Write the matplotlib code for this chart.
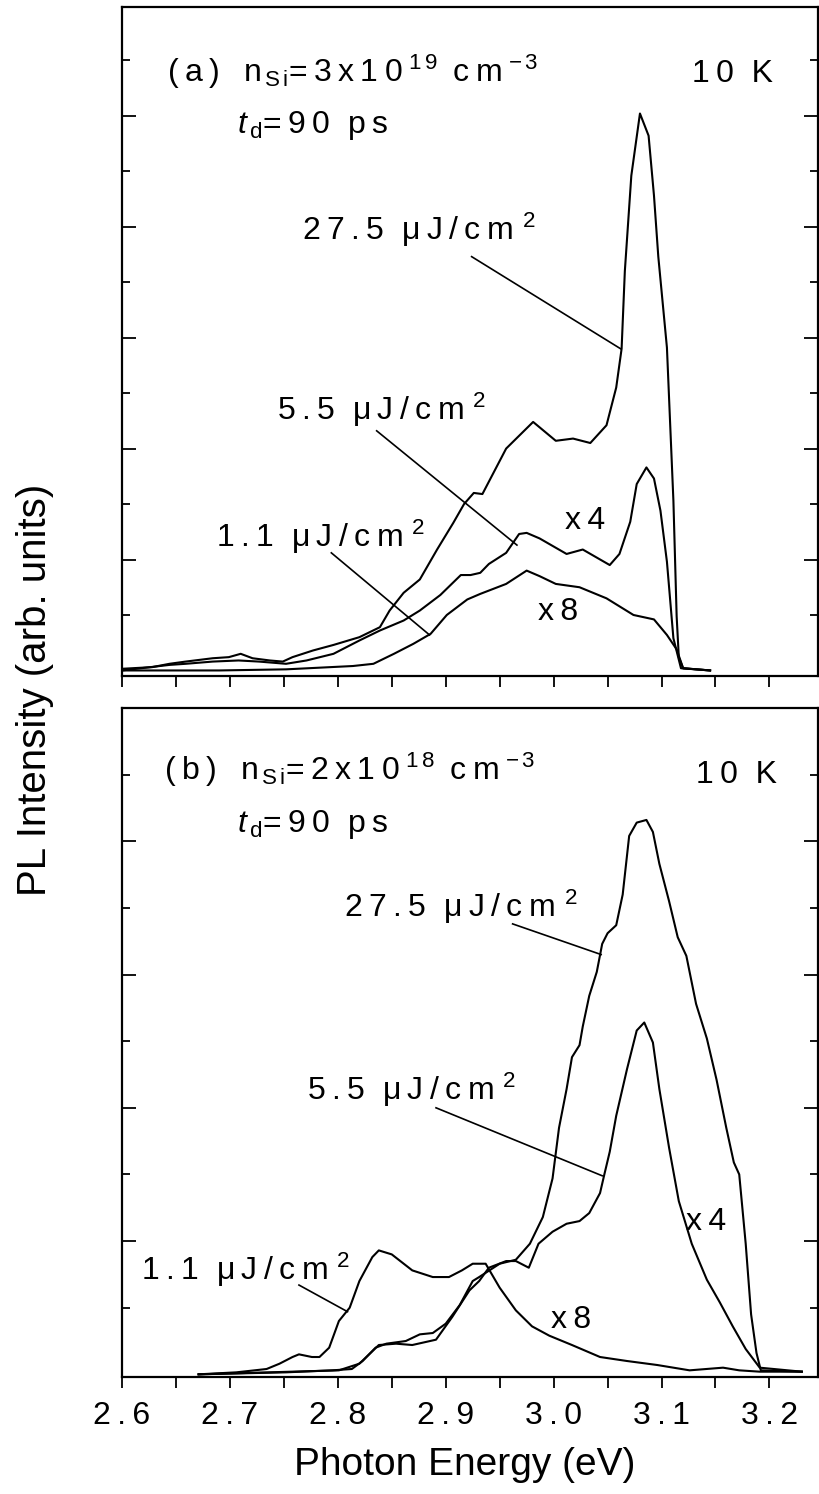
import matplotlib
matplotlib.use('Agg')
import matplotlib.pyplot as plt
from matplotlib.ticker import MultipleLocator, FixedLocator, FuncFormatter

plt.rcParams['font.family'] = ['Liberation Sans', 'DejaVu Sans']
plt.rcParams['mathtext.fontset'] = 'custom'
plt.rcParams['mathtext.rm'] = 'Liberation Sans'
plt.rcParams['mathtext.it'] = 'Liberation Sans:italic'

# ---- panel (a): n_Si = 3x10^19 cm^-3 ----
a_e_hi = [2.600, 2.628, 2.644, 2.659, 2.684, 2.699, 2.710, 2.721, 2.737, 2.749, 2.758, 2.777,
          2.796, 2.820, 2.839, 2.848, 2.861, 2.876, 2.892, 2.907, 2.917, 2.926, 2.934, 2.956,
          2.981, 3.002, 3.018, 3.034, 3.049, 3.058, 3.063, 3.066, 3.072, 3.080, 3.088, 3.093,
          3.097, 3.105, 3.111, 3.114, 3.116, 3.120, 3.145]
a_i_hi = [0.015, 0.03, 0.06, 0.08, 0.11, 0.12, 0.15, 0.11, 0.09, 0.08, 0.12, 0.18,
          0.23, 0.30, 0.39, 0.54, 0.70, 0.82, 1.09, 1.33, 1.50, 1.60, 1.59, 2.00,
          2.24, 2.07, 2.09, 2.05, 2.21, 2.55, 2.90, 3.60, 4.46, 5.02, 4.82, 4.28,
          3.73, 2.91, 1.53, 0.49, 0.12, 0.02, 0.0]

a_e_mid = [2.600, 2.644, 2.659, 2.684, 2.708, 2.727, 2.752, 2.771, 2.796, 2.820, 2.839, 2.861,
           2.876, 2.895, 2.914, 2.923, 2.932, 2.940, 2.956, 2.968, 2.975, 2.987, 3.012, 3.027,
           3.052, 3.061, 3.071, 3.077, 3.086, 3.093, 3.099, 3.105, 3.111, 3.118, 3.145]
a_i_mid = [0.0, 0.05, 0.06, 0.08, 0.09, 0.08, 0.06, 0.09, 0.15, 0.27, 0.36, 0.45,
           0.54, 0.68, 0.86, 0.86, 0.88, 0.96, 1.06, 1.23, 1.24, 1.19, 1.05, 1.09,
           0.95, 1.05, 1.34, 1.68, 1.83, 1.73, 1.44, 0.98, 0.29, 0.02, 0.0]

a_e_lo = [2.600, 2.690, 2.752, 2.814, 2.833, 2.852, 2.870, 2.886, 2.901, 2.920, 2.932, 2.956,
          2.975, 2.987, 3.002, 3.024, 3.049, 3.074, 3.093, 3.105, 3.114, 3.120, 3.145]
a_i_lo = [0.0, 0.0, 0.01, 0.04, 0.06, 0.15, 0.24, 0.33, 0.50, 0.64, 0.69, 0.78,
          0.90, 0.85, 0.78, 0.75, 0.65, 0.50, 0.46, 0.32, 0.19, 0.02, 0.0]

# ---- panel (b): n_Si = 2x10^18 cm^-3 ----
b_e_hi = [2.671, 2.752, 2.795, 2.813, 2.823, 2.835, 2.845, 2.863, 2.876, 2.888, 2.900, 2.913,
          2.925, 2.931, 2.950, 2.965, 2.978, 2.990, 2.999, 3.005, 3.012, 3.017, 3.024, 3.027,
          3.033, 3.040, 3.045, 3.050, 3.058, 3.064, 3.070, 3.077, 3.086, 3.092, 3.098, 3.107,
          3.115, 3.123, 3.132, 3.142, 3.151, 3.160, 3.167, 3.172, 3.178, 3.183, 3.188, 3.192,
          3.230]
b_i_hi = [0.0, 0.015, 0.03, 0.04, 0.10, 0.20, 0.23, 0.25, 0.30, 0.31, 0.38, 0.52,
          0.70, 0.73, 0.83, 0.86, 0.98, 1.18, 1.47, 1.85, 2.14, 2.38, 2.47, 2.61,
          2.84, 3.02, 3.23, 3.31, 3.37, 3.60, 4.04, 4.14, 4.16, 4.07, 3.83, 3.55,
          3.28, 3.14, 2.78, 2.52, 2.21, 1.85, 1.59, 1.50, 0.98, 0.45, 0.16, 0.03,
          0.02]

b_e_mid = [2.671, 2.801, 2.820, 2.838, 2.854, 2.869, 2.891, 2.906, 2.922, 2.931, 2.940, 2.956,
           2.965, 2.977, 2.986, 2.999, 3.012, 3.024, 3.033, 3.043, 3.047, 3.052, 3.058, 3.068,
           3.077, 3.084, 3.092, 3.098, 3.107, 3.116, 3.128, 3.142, 3.154, 3.166, 3.178, 3.191,
           3.230]
b_i_mid = [0.0, 0.03, 0.08, 0.22, 0.23, 0.22, 0.26, 0.43, 0.63, 0.70, 0.80, 0.85,
           0.85, 0.80, 0.98, 1.07, 1.13, 1.15, 1.21, 1.36, 1.50, 1.67, 1.94, 2.29,
           2.58, 2.64, 2.49, 2.14, 1.70, 1.30, 0.98, 0.71, 0.54, 0.36, 0.19, 0.05,
           0.02]

b_e_lo = [2.671, 2.706, 2.734, 2.746, 2.758, 2.764, 2.776, 2.783, 2.792, 2.801, 2.811, 2.820,
          2.832, 2.838, 2.850, 2.869, 2.888, 2.903, 2.915, 2.925, 2.937, 2.950, 2.965, 2.980,
          2.996, 3.017, 3.043, 3.068, 3.096, 3.126, 3.157, 3.172, 3.191, 3.230]
b_i_lo = [0.0, 0.015, 0.04, 0.08, 0.13, 0.15, 0.13, 0.13, 0.20, 0.40, 0.50, 0.70,
          0.88, 0.93, 0.90, 0.78, 0.73, 0.73, 0.78, 0.83, 0.83, 0.65, 0.48, 0.36,
          0.29, 0.22, 0.13, 0.10, 0.07, 0.03, 0.05, 0.03, 0.02, 0.02]

x_ticks = [2.6, 2.7, 2.8, 2.9, 3.0, 3.1, 3.2]
fluences = ['27.5', '5.5', '1.1']
scales = ['x4', 'x8']

TS = '\u2009'  # thin space, the original lettering is widely tracked


def track(s):
    return TS.join(s)


fig = plt.figure(figsize=(8.19, 14.94), dpi=100)
ax_a = fig.add_axes([122 / 819, 1 - 676 / 1494, 696 / 819, 669 / 1494])
ax_b = fig.add_axes([122 / 819, 1 - 1377 / 1494, 696 / 819, 669 / 1494])


def style(ax, ylim, ymajor):
    ax.set_xlim(2.6, 3.245)
    ax.set_ylim(*ylim)
    ax.xaxis.set_major_locator(FixedLocator(x_ticks))
    ax.xaxis.set_minor_locator(MultipleLocator(0.05))
    ax.yaxis.set_major_locator(FixedLocator(ymajor))
    ax.yaxis.set_minor_locator(FixedLocator([v + 0.5 for v in [0] + ymajor]))
    ax.tick_params(axis='x', which='both', direction='out', length=8, width=1.3,
                   top=False, labelsize=23, pad=9)
    ax.tick_params(axis='y', which='major', direction='in', length=10, width=1.3,
                   left=True, right=True, labelleft=False)
    ax.tick_params(axis='y', which='minor', direction='in', length=6, width=1.3,
                   left=True, right=True)
    for s in ax.spines.values():
        s.set_linewidth(1.6)


style(ax_a, (-0.05, 5.98), [1, 2, 3, 4, 5])
style(ax_b, (-0.02, 5.0), [1, 2, 3, 4])
ax_a.tick_params(axis='x', labelbottom=False)
ax_b.xaxis.set_major_formatter(FuncFormatter(lambda v, p: track(f'{v:.1f}')))

lw = 1.5
for e, i in [(a_e_hi, a_i_hi), (a_e_mid, a_i_mid), (a_e_lo, a_i_lo)]:
    ax_a.plot(e, i, color='black', lw=lw)
for e, i in [(b_e_hi, b_i_hi), (b_e_mid, b_i_mid), (b_e_lo, b_i_lo)]:
    ax_b.plot(e, i, color='black', lw=lw)

# fluence labels with leader lines
fs = 23
a_labels = [((2.767, 3.88), (2.924, 3.73), (3.062, 2.90)),
            ((2.744, 2.26), (2.836, 2.16), (2.966, 1.13)),
            ((2.687, 1.11), (2.794, 1.06), (2.885, 0.32))]
b_labels = [((2.806, 3.43), (2.962, 3.38), (3.044, 3.15)),
            ((2.771, 2.06), (2.891, 2.00), (3.045, 1.49)),
            ((2.618, 0.71), (2.764, 0.67), (2.809, 0.47))]
for ax, labs in [(ax_a, a_labels), (ax_b, b_labels)]:
    for f, (tpos, p0, p1) in zip(fluences, labs):
        txt = track(f) + '  ' + track('μJ/cm') + ' $^{2}$'
        ax.text(tpos[0], tpos[1], txt, fontsize=fs, ha='left', va='baseline')
        ax.plot([p0[0], p1[0]], [p0[1], p1[1]], color='black', lw=1.2)

ax_a.text(3.029, 1.35, track(scales[0]), fontsize=fs, ha='center', va='center')
ax_a.text(3.004, 0.53, track(scales[1]), fontsize=fs, ha='center', va='center')
ax_b.text(3.141, 1.14, track(scales[0]), fontsize=fs, ha='center', va='center')
ax_b.text(3.016, 0.41, track(scales[1]), fontsize=fs, ha='center', va='center')

hs = 23


def header(tag, mant, expo):
    return (track('(' + tag + ')') + '  ' + TS + r'n$_{\,\mathrm{S\,i}}$' + track('=' + mant + 'x10')
            + TS + '$^{' + r'\,'.join(expo) + '}$' + ' ' + TS + track('cm') + TS + r'$^{-\,3}$')


td = r'$t_{\,\mathrm{d}}$' + track('=90') + '  ' + track('ps')
ax_a.text(2.642, 5.30, header('a', '3', '19'), fontsize=hs, va='baseline')
ax_a.text(2.707, 4.84, td, fontsize=hs, va='baseline')
ax_a.text(3.128, 5.30, track('10') + '  K', fontsize=hs, va='baseline')
ax_b.text(2.639, 4.46, header('b', '2', '18'), fontsize=hs, va='baseline')
ax_b.text(2.707, 4.07, td, fontsize=hs, va='baseline')
ax_b.text(3.132, 4.44, track('10') + '  K', fontsize=hs, va='baseline')

ax_b.set_xlabel('Photon Energy (eV)', fontsize=28)
ax_b.xaxis.set_label_coords(0.493, -0.105)
fig.text(35 / 819, 1 - 690 / 1494, 'PL Intensity (arb. units)', rotation=90,
         fontsize=29, ha='center', va='center')

fig.savefig('out.png', dpi=100)
